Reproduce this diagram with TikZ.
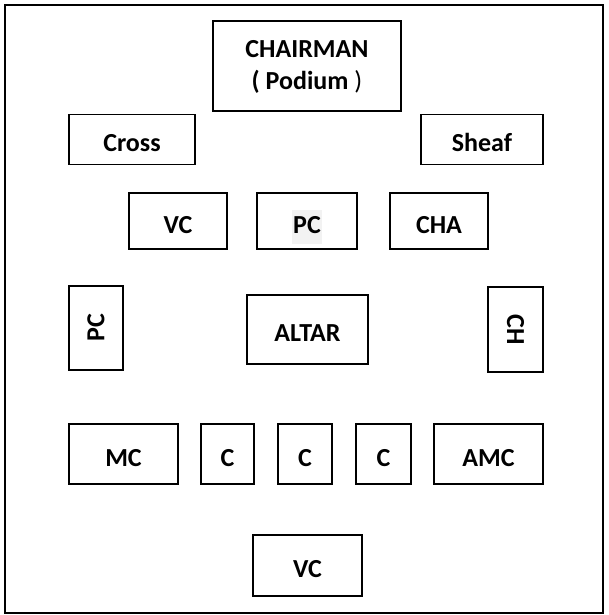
\documentclass[tikz,border=0pt]{standalone}
\usepackage{fontspec}
\setmainfont{Carlito}
\usepackage{tikz}
\definecolor{hilite}{RGB}{242, 242, 242}

\begin{document}
\begin{tikzpicture}[x=1pt, y=-1pt,
    seat/.style={draw, line width=1.4pt, inner sep=0pt,
      font=\fontsize{26}{32}\selectfont\bfseries,
      text height=24.7pt, text depth=0pt},
    upright/.style={text height=16.7pt}]
  \useasboundingbox (0,0) rectangle (608,615);
  \draw[line width=2pt] (5,5) rectangle (603,612.5);

  % top: podium, cross and sheaf
  \node[seat, minimum width=188pt, minimum height=90pt, align=center,
        text height=48.7pt, text depth=0.7pt] (chair) at (307,66) {CHAIRMAN\\( Podium \textmd{)}};
  \node[seat, minimum width=126pt, minimum height=50pt] (cross) at (132,139.5) {Cross};
  \node[seat, minimum width=122pt, minimum height=50pt] (sheaf) at (482,139.5) {Sheaf};

  % second row
  \node[seat, minimum width=98pt, minimum height=56pt] (vcTop) at (178,221) {VC};
  \node[seat, minimum width=100pt, minimum height=56pt] (pcTop) at (307,221)
        {\setlength{\fboxsep}{1pt}\colorbox{hilite}{\strut PC}};
  \node[seat, minimum width=98pt, minimum height=56pt] (cha) at (439,221) {CHA};

  % altar with side seats
  \node[seat, upright, rotate=90, minimum width=84pt, minimum height=54pt] (pcSide) at (96,328) {PC};
  \node[seat, minimum width=121pt, minimum height=69pt] (altar) at (307.5,329.5) {ALTAR};
  \node[seat, upright, rotate=-90, minimum width=85pt, minimum height=55pt] (ch) at (515.5,329.5) {CH};

  % front row
  \node[seat, minimum width=109pt, minimum height=60pt] (mc) at (123.5,454) {MC};
  \node[seat, minimum width=53pt, minimum height=60pt] (cA) at (227.5,454) {C};
  \node[seat, minimum width=54pt, minimum height=60pt] (cB) at (305,454) {C};
  \node[seat, minimum width=55pt, minimum height=60pt] (cC) at (383.5,454) {C};
  \node[seat, minimum width=109pt, minimum height=60pt] (amc) at (488.5,454) {AMC};

  % bottom
  \node[seat, minimum width=109pt, minimum height=61pt] (vcBottom) at (307.5,565.5) {VC};
\end{tikzpicture}
\end{document}
